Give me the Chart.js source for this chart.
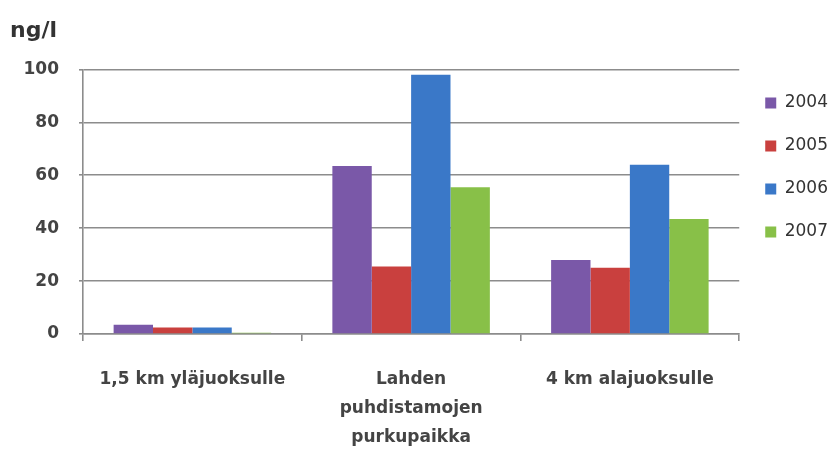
<!DOCTYPE html>
<html>
<head>
<meta charset="utf-8">
<script src="https://cdn.jsdelivr.net/npm/chart.js@4/dist/chart.umd.min.js"></script>
<style>
  html, body { margin: 0; padding: 0; background: #fff; overflow: hidden; }
  #wrap { position: relative; width: 838px; height: 455px; }
</style>
</head>
<body>
<div id="wrap"><canvas id="chart"></canvas></div>
<script>
// Data
const sites = [
  '1,5 km yläjuoksulle',
  ['Lahden', 'puhdistamojen', 'purkupaikka'],
  '4 km alajuoksulle'
];
const years = ['2004', '2005', '2006', '2007'];
const values2004 = [3.5, 63.5, 28];
const values2005 = [2.5, 25.5, 25];
const values2006 = [2.5, 98, 64];
const values2007 = [0.5, 55.5, 43.5];
const yTicks = [0, 20, 40, 60, 80, 100];
const unitLabel = 'ng/l';

const colors = ['#7a58a8', '#c9403e', '#3a78c8', '#88c048'];
const seriesValues = [values2004, values2005, values2006, values2007];

const datasets = years.map((y, i) => ({
  label: y,
  data: seriesValues[i],
  backgroundColor: colors[i],
  borderWidth: 0,
  categoryPercentage: 0.72,
  barPercentage: 1.0
}));

const ctx = document.getElementById('chart').getContext('2d');
new Chart(ctx, {
  type: 'bar',
  data: { labels: sites, datasets: datasets },
  options: {
    responsive: true,
    maintainAspectRatio: false,
    animation: false,
    layout: { padding: { left: 10, right: 0, top: 0, bottom: 5 } },
    plugins: {
      title: {
        display: true,
        text: unitLabel,
        align: 'start',
        color: '#333',
        font: { family: 'DejaVu Sans', size: 22, weight: 'bold' },
        padding: { top: 18, bottom: 25 }
      },
      legend: {
        position: 'right',
        align: 'start',
        // empty legend title only pushes the entries down to the plot's upper half
        title: { display: true, text: ' ', font: { size: 12 }, padding: { top: 54, bottom: 0 } },
        labels: {
          boxWidth: 11,
          boxHeight: 11,
          padding: 26,
          color: '#333',
          font: { family: 'DejaVu Sans', size: 17 }
        }
      },
      tooltip: { enabled: false }
    },
    scales: {
      y: {
        min: 0,
        max: 100,
        afterBuildTicks: (s) => { s.ticks = yTicks.map(v => ({ value: v })); },
        afterFit: (s) => { s.width = 73; },
        ticks: {
          color: '#444',
          padding: 20,
          font: { family: 'DejaVu Sans', size: 17, weight: 'bold' }
        },
        grid: { color: '#8c8c8c', lineWidth: 1.6, tickLength: 4 },
        border: { color: '#8c8c8c', width: 1.6 }
      },
      x: {
        afterFit: (s) => { s.height = 116; },
        ticks: {
          color: '#444',
          padding: 24,
          maxRotation: 0,
          font: { family: 'DejaVu Sans', size: 17, weight: 'bold', lineHeight: 1.7 }
        },
        grid: { offset: true, drawOnChartArea: false, drawTicks: true, tickLength: 7, color: '#8c8c8c', lineWidth: 1.6 },
        border: { color: '#8c8c8c', width: 1.6 }
      }
    }
  }
});
</script>
</body>
</html>
